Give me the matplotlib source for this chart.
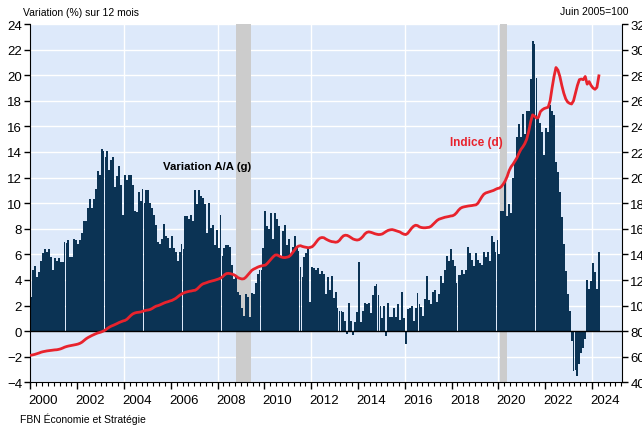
import matplotlib
matplotlib.use("Agg")
import matplotlib.pyplot as plt
import matplotlib.transforms as mtransforms
import numpy as np

plt.rcParams['font.family'] = ['Liberation Sans', 'DejaVu Sans']

# variation sur 12 mois (%), mensuel, janv. 2000 -> avr. 2024
yoy = [
    2.7, 4.8, 5.1, 4.2, 4.6, 5.5, 6.1, 6.4, 6.2, 6.4, 5.8, 4.8,
    5.7, 5.5, 5.7, 5.4, 5.4, 7.0, 6.9, 7.1, 5.8, 5.8, 7.2, 7.1,
    6.8, 7.1, 7.7, 8.6, 8.6, 9.6, 10.3, 9.6, 10.3, 11.1, 12.5, 12.2,
    14.2, 14.1, 13.6, 14.1, 12.6, 13.4, 13.6, 11.3, 12.1, 12.9, 11.4, 9.1,
    12.2, 11.8, 12.2, 12.2, 11.4, 9.4, 9.3, 10.9, 10.2, 11.1, 10.0, 11.0,
    11.0, 10.0, 9.6, 9.1, 8.3, 7.0, 6.8, 7.2, 8.4, 7.4, 7.3, 6.5,
    7.4, 6.5, 6.2, 5.5, 6.2, 6.8, 6.4, 9.0, 9.0, 8.8, 9.1, 8.6,
    11.0, 9.9, 11.0, 10.6, 10.4, 9.9, 7.7, 10.0, 8.1, 8.3, 6.7, 7.9,
    6.5, 9.1, 5.9, 6.5, 6.7, 6.7, 6.6, 5.2, 4.1, 4.4, 3.1, 2.8,
    1.8, 1.2, 2.9, 2.7, 1.1, 3.0, 2.9, 3.8, 4.5, 4.8, 4.8, 6.5,
    9.4, 8.2, 8.0, 9.2, 7.2, 9.2, 8.8, 8.2, 5.9, 7.8, 8.3, 6.7,
    7.2, 6.0, 6.6, 7.4, 6.5, 6.3, 5.0, 4.2, 5.8, 6.1, 6.6, 2.3,
    5.0, 4.9, 4.8, 4.9, 4.5, 4.7, 4.5, 2.9, 4.2, 3.2, 4.3, 2.6,
    3.1, 1.8, 1.6, 1.6, 1.5, 0.8, -0.2, 2.2, 0.8, -0.3, 0.7, 1.5,
    5.4, 0.7, 1.6, 2.2, 2.1, 2.2, 1.4, 2.8, 3.5, 3.7, 2.8, 2.0,
    1.0, 2.0, -0.4, 2.2, 1.1, 1.1, 1.8, 1.1, 2.1, 0.9, 3.1, 1.0,
    -1.0, 1.7, 1.8, 2.0, 0.8, 1.8, 3.0, 2.1, 1.9, 1.2, 2.5, 4.3,
    2.4, 2.1, 3.1, 3.2, 2.3, 2.9, 4.3, 3.8, 4.8, 5.9, 5.5, 6.4,
    5.6, 5.1, 3.8, 4.4, 4.4, 4.8, 4.5, 4.8, 6.6, 6.1, 5.6, 5.1,
    6.1, 5.6, 5.3, 5.2, 6.2, 5.8, 6.2, 5.5, 7.4, 7.0, 6.2, 7.1,
    6.0, 9.4, 9.4, 11.7, 9.0, 9.9, 9.2, 12.0, 13.3, 15.2, 16.2, 15.2,
    17.0, 15.4, 17.2, 17.2, 19.7, 22.7, 22.4, 19.8, 16.7, 16.3, 15.6, 13.8,
    15.9, 15.6, 17.7, 17.2, 16.9, 13.2, 12.4, 10.9, 8.9, 6.8, 4.7, 2.9,
    1.6, -0.8, -3.1, -3.0, -3.5, -2.6, -1.7, -1.3, -0.6, 4.0, 3.3, 3.9,
    5.3, 4.6, 3.3, 6.2,
]

# indice (juin 2005=100), mensuel
indice = [
    61.3, 61.6, 62.0, 62.5, 63.0, 63.6, 64.0, 64.3, 64.6, 64.8, 65.0, 65.2,
    65.4, 65.5, 65.8, 66.2, 66.8, 67.5, 68.0, 68.4, 68.7, 69.0, 69.3, 69.6,
    70.0, 70.6, 71.5, 72.8, 74.0, 75.0, 75.8, 76.6, 77.3, 78.0, 78.6, 79.0,
    79.5, 80.2, 81.0, 82.2, 83.2, 84.0, 84.6, 85.3, 86.0, 86.8, 87.4, 88.0,
    88.4, 89.3, 90.8, 92.3, 93.5, 94.2, 94.6, 94.8, 95.0, 95.5, 96.0, 96.4,
    96.6, 97.0, 97.8, 98.8, 99.6, 100.0, 100.6, 101.3, 102.0, 102.6, 103.0, 103.6,
    104.0, 104.8, 105.6, 106.8, 108.0, 109.0, 109.8, 110.4, 110.8, 111.2, 111.4, 111.8,
    112.0, 113.0, 114.5, 116.0, 117.0, 117.5, 118.0, 118.6, 119.0, 119.4, 119.8, 120.3,
    120.8, 121.5, 122.5, 124.0, 125.0, 125.2, 125.0, 124.5, 124.0, 123.0, 121.8, 121.2,
    120.8, 121.0, 122.2, 124.0, 125.8, 127.5, 128.5, 129.2, 130.0, 130.6, 131.0, 131.4,
    131.6, 133.0, 134.8, 136.5, 138.2, 139.5, 139.6, 138.8, 138.0, 137.6, 137.5, 137.8,
    138.2, 139.5, 141.5, 143.5, 145.5, 146.5, 146.8, 146.2, 145.8, 145.5, 145.2, 145.5,
    146.0, 147.5, 149.5, 151.5, 152.8, 153.2, 153.0, 152.0, 151.2, 150.5, 150.0, 149.8,
    149.5, 149.8, 151.0, 153.0, 154.5, 155.0, 154.8, 154.0, 153.0, 152.0, 151.5, 151.2,
    151.5, 152.5, 154.0, 156.0, 157.2, 157.6, 157.3, 156.8, 156.2, 155.8, 155.5, 155.6,
    156.0, 157.0, 158.0, 158.8, 159.2, 159.4, 159.0, 158.5, 158.0, 157.5, 156.5, 155.8,
    155.5, 156.5, 158.5, 160.5, 162.0, 162.8, 162.5, 161.5, 161.0, 160.8, 160.8, 161.0,
    161.2, 162.0, 163.5, 165.0, 166.5, 167.5, 168.0, 168.5, 169.0, 169.3, 169.6, 170.0,
    170.2, 171.0, 172.5, 174.5, 176.0, 176.8, 177.2, 177.5, 177.8, 178.0, 178.2, 178.5,
    178.7, 180.0, 182.5, 185.0, 187.0, 188.0, 188.5, 189.0, 189.5, 190.0, 190.8, 191.5,
    191.8, 193.0, 195.0, 197.5, 201.0, 205.5, 208.5, 210.5, 213.0, 215.5, 219.0, 222.0,
    224.0, 226.5, 230.0, 236.0, 243.5, 249.0, 248.0, 246.5, 247.0, 251.5, 253.0, 254.0,
    254.5, 255.0, 260.0, 270.0, 279.0, 286.0, 284.0, 279.0, 272.0, 266.0, 261.5, 259.0,
    258.0, 257.5, 260.0, 266.0, 272.0, 276.5, 277.0, 276.5, 279.0, 273.0, 275.0, 272.0,
    270.0, 269.0, 270.5, 279.5,
]

# recessions (annees decimales)
rec_debut = [2008.79, 2020.08]
rec_fin = [2009.42, 2020.36]

annees = list(range(2000, 2025, 2))
lab_annees = [str(a) for a in annees]

BLEU = '#0b3354'
ROUGE = '#e8232d'

t = 2000 + (np.arange(len(yoy)) + 0.5) / 12

fig = plt.figure(figsize=(6.42, 4.27), dpi=100)
ax = fig.add_axes([30.4 / 642, 1 - 383.4 / 427, (622 - 30.4) / 642, (383.4 - 25) / 427])
ax.set_facecolor('#dde9fa')
ax.set_xlim(2000, 2025.28)
ax.set_ylim(-4, 24)

# grille blanche
for y in range(-4, 25, 2):
    ax.axhline(y, color='white', lw=1, zorder=0.5)
for x in range(2004, 2025, 4):
    ax.axvline(x, color='white', lw=1, zorder=0.5)

for d, f in zip(rec_debut, rec_fin):
    ax.axvspan(d, f, color='#cccccc', lw=0, zorder=1)

ax.bar(t, yoy, width=1 / 12 * 0.97, color=BLEU, lw=0, zorder=2)
ax.axhline(0, color='black', lw=1, zorder=3)

ax.set_yticks(range(-4, 25, 2))
ax.set_xticks(annees)
ax.set_xticklabels(lab_annees)
ax.set_xticks(np.arange(2000, 2025.3, 0.25), minor=True)
ax.tick_params(axis='y', direction='out', length=4, width=1, labelsize=9.5, pad=2)
ax.tick_params(axis='x', which='major', direction='out', length=5, width=1, labelsize=9.5, pad=3)
ax.tick_params(axis='x', which='minor', direction='out', length=3, width=0.8)
off = mtransforms.ScaledTranslation(0.13, 0, fig.dpi_scale_trans)
for lab in ax.get_xticklabels():
    lab.set_transform(lab.get_transform() + off)

ax.spines['top'].set_visible(False)
ax.spines['right'].set_visible(False)

ax2 = ax.twinx()
ax2.set_ylim(40, 320)
ax2.set_yticks(range(40, 321, 20))
ax2.plot(t, indice, color=ROUGE, lw=2, zorder=4)
ax2.tick_params(axis='y', direction='out', length=4, width=1, labelsize=9.5, pad=2)
ax2.spines['top'].set_visible(False)
ax2.spines['bottom'].set_visible(False)
ax2.spines['left'].set_visible(False)

ax.text(2005.67, 12.9, 'Variation A/A (g)', fontweight='bold', fontsize=8.2, va='center')
ax.text(2017.94, 14.75, 'Indice (d)', color=ROUGE, fontweight='bold', fontsize=8.5, va='center')

fig.text(23 / 642, 1 - 13 / 427, 'Variation (%) sur 12 mois', fontsize=7.5, va='center')
fig.text(628 / 642, 1 - 12 / 427, 'Juin 2005=100', fontsize=7.5, ha='right', va='center')
fig.text(20 / 642, 1 - 419 / 427, 'FBN Économie et Stratégie', fontsize=7.5, va='center')

fig.savefig('out.png', dpi=100)
